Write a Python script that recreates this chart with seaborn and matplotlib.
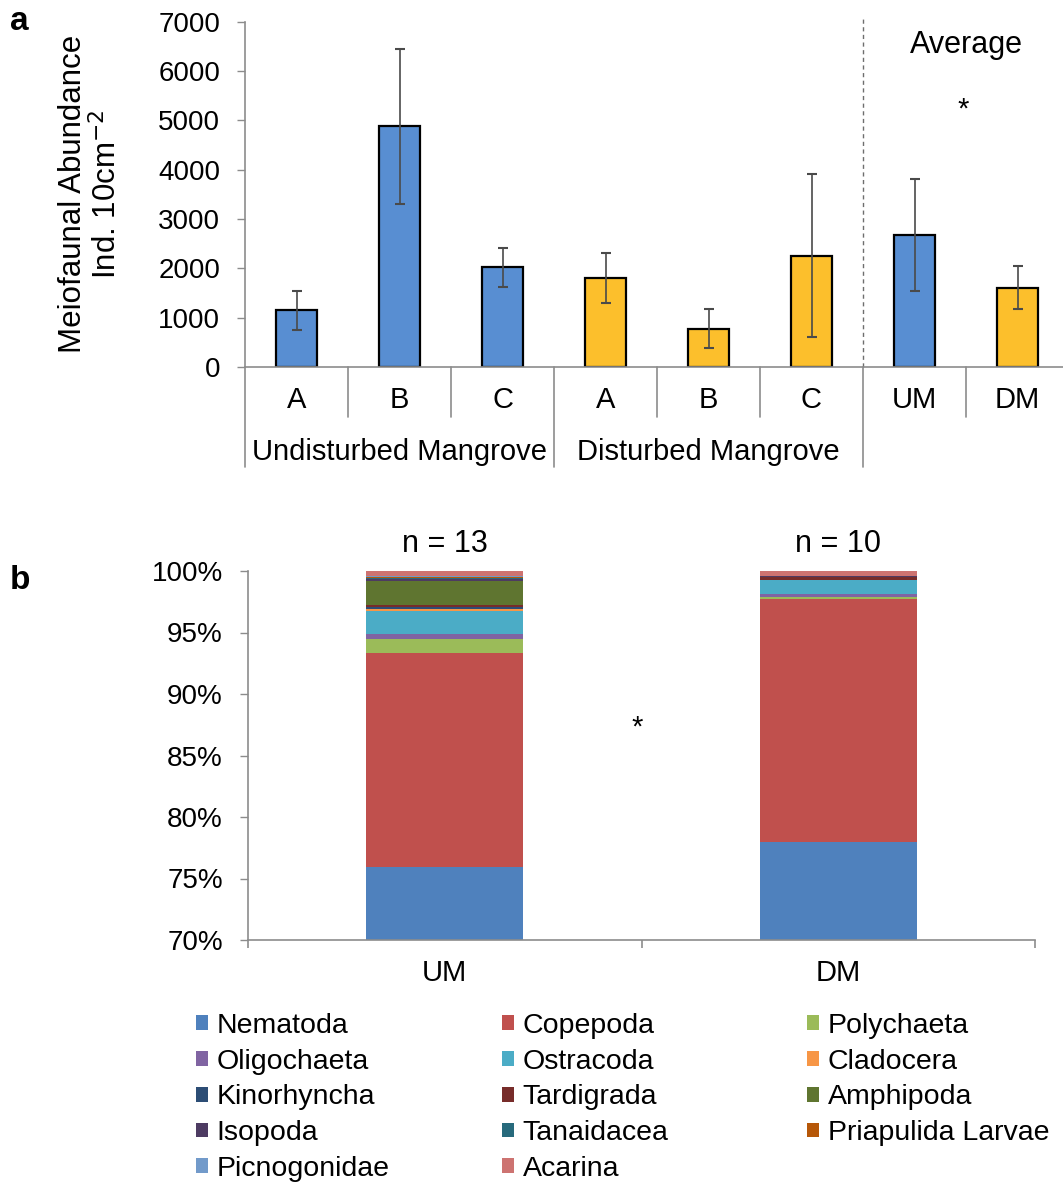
import seaborn as sns
import matplotlib.pyplot as plt
import pandas as pd
import numpy as np
from matplotlib.patches import Patch

# panel a data: mean abundance (ind. 10 cm-2) and error
site_keys = ['UA', 'UB', 'UC', 'DA', 'DB', 'DC', 'UM', 'DM']
site_labels = ['A', 'B', 'C', 'A', 'B', 'C', 'UM', 'DM']
site_group = ['U', 'U', 'U', 'D', 'D', 'D', 'U', 'D']
abundance = [1150, 4880, 2020, 1800, 780, 2260, 2680, 1610]
abundance_err = [400, 1570, 390, 510, 400, 1650, 1130, 440]
group_names = ['Undisturbed Mangrove', 'Disturbed Mangrove']

# panel b data: relative composition (%)
taxa = ['Nematoda', 'Copepoda', 'Polychaeta', 'Oligochaeta', 'Ostracoda', 'Cladocera',
        'Kinorhyncha', 'Tardigrada', 'Amphipoda', 'Isopoda', 'Tanaidacea',
        'Priapulida Larvae', 'Picnogonidae', 'Acarina']
comp_um = [75.9, 17.4, 1.16, 0.4, 1.87, 0.14, 0.2, 0.2, 1.9, 0.15, 0.15, 0.05, 0.08, 0.4]
comp_dm = [78.0, 19.7, 0.2, 0.2, 1.15, 0.0, 0.05, 0.2, 0.0, 0.1, 0.02, 0.0, 0.0, 0.38]
n_samples = [13, 10]
taxa_colors = ['#4F81BD', '#C0504D', '#9BBB59', '#8064A2', '#4BACC6', '#F79646',
               '#2C4D75', '#772C2A', '#5F7530', '#4D3B62', '#276A7C', '#B65708',
               '#729ACA', '#CD7371']

sns.set_style('ticks')
plt.rcParams['font.family'] = ['Liberation Sans', 'DejaVu Sans']
plt.rcParams['font.size'] = 20
for key in ['text.color', 'axes.labelcolor', 'xtick.labelcolor', 'ytick.labelcolor']:
    plt.rcParams[key] = 'black'
axis_grey = '#8c8c8c'
fs_tick = 20
fs_text = 21

W, H = 1063, 1182
fig = plt.figure(figsize=(W / 100, H / 100), dpi=100)

def px_axes(left, top, right, bottom):
    return fig.add_axes([left / W, 1 - bottom / H, (right - left) / W, (bottom - top) / H])

# ---------------- panel a ----------------
ax = px_axes(245, 21.7, 1069, 367)
df_a = pd.DataFrame({'site': site_keys, 'abundance': abundance, 'group': site_group})
sns.barplot(data=df_a, x='site', y='abundance', hue='group', order=site_keys,
            palette={'U': '#588ED2', 'D': '#FCBF2C'}, dodge=False, width=0.4, saturation=1,
            edgecolor='black', linewidth=1.6, legend=False, ax=ax)
ax.errorbar(np.arange(len(site_keys)), abundance, yerr=abundance_err, fmt='none',
            ecolor='#4a4a4a', elinewidth=1.2, capsize=3.5, capthick=1.5)
ax.set_ylim(0, 7000)
ax.set_xlim(-0.5, 7.5)
ax.set_yticks(range(0, 7001, 1000))
ax.tick_params(axis='y', length=6, width=1, color=axis_grey, pad=12, labelsize=fs_tick)
ax.tick_params(axis='x', bottom=False, labelbottom=False)
ax.set_xlabel('')
ax.set_ylabel('')
for s in ['top', 'right']:
    ax.spines[s].set_visible(False)
for s in ['left', 'bottom']:
    ax.spines[s].set_color(axis_grey)
    ax.spines[s].set_linewidth(1.2)

trans = ax.get_xaxis_transform()
for i, lab in enumerate(site_labels):
    ax.text(i, -0.096, lab, transform=trans, ha='center', va='center', fontsize=fs_text)
# separators below the axis
for xs in [0.5, 1.5, 3.5, 4.5, 6.5]:
    ax.plot([xs, xs], [0, -0.145], transform=trans, color=axis_grey, lw=1.2, clip_on=False)
for xs in [-0.5, 2.5, 5.5]:
    ax.plot([xs, xs], [0, -0.29], transform=trans, color=axis_grey, lw=1.2, clip_on=False)
ax.text(1, -0.246, group_names[0], transform=trans, ha='center', va='center', fontsize=fs_text)
ax.text(4, -0.246, group_names[1], transform=trans, ha='center', va='center', fontsize=fs_text)
ax.plot([5.5, 5.5], [0, 7050], color='#6e6e6e', lw=1, ls=(0, (3, 2.5)), clip_on=False)
ax.text(6.5, 6520, 'Average', ha='center', va='center', fontsize=fs_text + 1)
ax.text(6.47, 5220, '*', ha='center', va='center', fontsize=fs_text)

fig.text(91 / W, 1 - 194 / H, 'Meiofaunal Abundance\nInd. 10cm$^{-2}$', rotation=90,
         ha='center', va='center', multialignment='center', fontsize=22.5, linespacing=1.1)
fig.text(10 / W, 1 - 22 / H, 'a', fontsize=24, fontweight='bold', va='center')
fig.text(10 / W, 1 - 580 / H, 'b', fontsize=24, fontweight='bold', va='center')

# ---------------- panel b ----------------
bx = px_axes(248, 571, 1035, 940)
sites_b = ['UM', 'DM']
cum_um = np.cumsum(comp_um)
cum_dm = np.cumsum(comp_dm)
# draw cumulative totals from the top taxon down so each layer covers the next
for k in range(len(taxa) - 1, -1, -1):
    sns.barplot(x=sites_b, y=[cum_um[k], cum_dm[k]], color=taxa_colors[k], width=0.4,
                linewidth=0, saturation=1, ax=bx)
bx.set_ylim(70, 100)
bx.set_xlim(-0.5, 1.5)
bx.set_yticks(range(70, 101, 5))
bx.set_yticklabels([f'{v}%' for v in range(70, 101, 5)])
bx.tick_params(axis='y', length=6, width=1, color=axis_grey, pad=12, labelsize=fs_tick)
bx.set_xticks([0, 1])
bx.set_xticklabels(sites_b)
bx.tick_params(axis='x', length=0, pad=14, labelsize=fs_text)
bx.set_xticks([-0.5, 0.5, 1.5], minor=True)
bx.tick_params(axis='x', which='minor', length=6, width=1.2, color=axis_grey)
for s in ['top', 'right']:
    bx.spines[s].set_visible(False)
for s in ['left', 'bottom']:
    bx.spines[s].set_color(axis_grey)
    bx.spines[s].set_linewidth(1.2)
for i, n in enumerate(n_samples):
    bx.text(i, 102.2, f'n = {n}', ha='center', va='center', fontsize=fs_text + 1, clip_on=False)
bx.text(0.49, 87.3, '*', ha='center', va='center', fontsize=fs_text)

# legend, three columns placed separately
col_x = [196, 502, 807]
for j in range(3):
    idx = list(range(j, len(taxa), 3))
    handles = [Patch(facecolor=taxa_colors[i], edgecolor='none') for i in idx]
    fig.legend(handles, [taxa[i] for i in idx], loc='upper left',
               bbox_to_anchor=(col_x[j] / W, 1 - 1013 / H), frameon=False,
               fontsize=20.5, handlelength=0.42, handleheight=0.42, handletextpad=0.3,
               labelspacing=0.34, borderpad=0, borderaxespad=0)

plt.savefig('out.png', dpi=100)
